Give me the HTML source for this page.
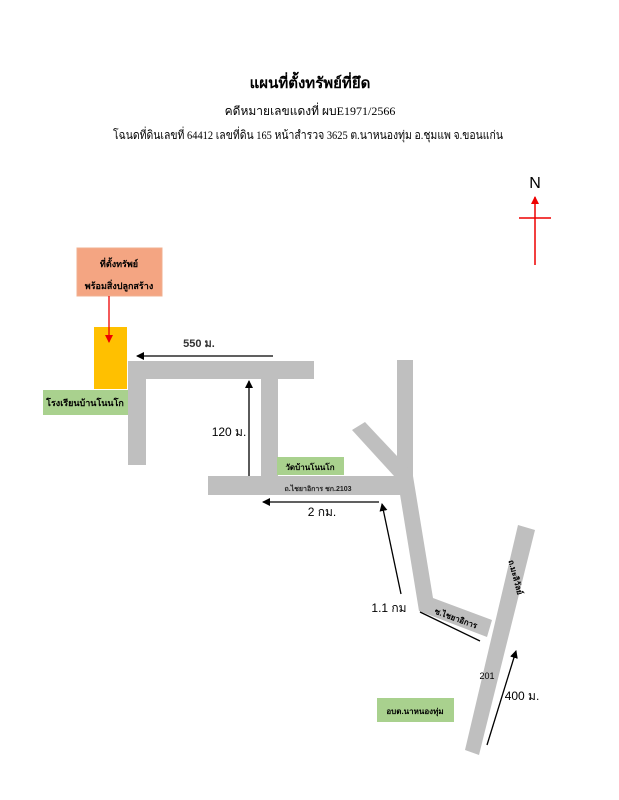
<!DOCTYPE html>
<html><head><meta charset="utf-8"><style>
body{margin:0;background:#fff;width:619px;height:800px;overflow:hidden}
svg{display:block}
text{font-family:"Liberation Sans","Noto Sans CJK SC",sans-serif}
.s{font-family:"Liberation Serif","Noto Serif CJK SC",serif}
</style></head><body>
<svg width="619" height="800" viewBox="0 0 619 800" xmlns="http://www.w3.org/2000/svg">
<defs>
<marker id="a" markerWidth="8" markerHeight="8" refX="7" refY="4" orient="auto" markerUnits="userSpaceOnUse"><path d="M0,0 L8,4 L0,8z" fill="#000"/></marker>
<marker id="r" markerWidth="8" markerHeight="8" refX="7" refY="4" orient="auto" markerUnits="userSpaceOnUse"><path d="M0,0 L8,4 L0,8z" fill="#e00"/></marker>
</defs>
<text class="s" x="310" y="88" font-size="15" font-weight="bold" text-anchor="middle">แผนที่ตั้งทรัพย์ที่ยึด</text>
<text class="s" x="310" y="115" font-size="12" text-anchor="middle">คดีหมายเลขแดงที่ ผบE1971/2566</text>
<text class="s" x="113" y="139" font-size="12" textLength="390" lengthAdjust="spacingAndGlyphs">โฉนดที่ดินเลขที่ 64412  เลขที่ดิน 165 หน้าสำรวจ 3625 ต.นาหนองทุ่ม อ.ชุมแพ จ.ขอนแก่น</text>
<text x="535" y="188" font-size="16" text-anchor="middle">N</text>
<line x1="535" y1="265" x2="535" y2="197" stroke="#e00" stroke-width="1.5" marker-end="url(#r)"/>
<line x1="519" y1="218" x2="551" y2="218" stroke="#e00" stroke-width="1.5"/>
<g fill="#bfbfbf">
<rect x="128" y="361" width="186" height="18"/>
<rect x="128" y="361" width="18" height="104"/>
<rect x="261" y="379" width="17" height="98"/>
<rect x="208" y="476" width="205" height="19"/>
<rect x="397" y="360" width="16" height="120"/>
<polygon points="352,430 365,422 412,472 405,488"/>
<polygon points="397,476 413,476 433,598 492,620 487,637 419,611"/>
<polygon points="518,525 535,530 479,755 465,750"/>
</g>
<rect x="77" y="248" width="85" height="48" fill="#f4a582" stroke="#f0b090"/>
<text x="119" y="267" font-size="9" font-weight="bold" text-anchor="middle">ที่ตั้งทรัพย์</text>
<text x="119" y="289" font-size="9" font-weight="bold" text-anchor="middle">พร้อมสิ่งปลูกสร้าง</text>
<rect x="94" y="327" width="33" height="62" fill="#ffc000"/>
<line x1="109" y1="296" x2="109" y2="342" stroke="#e00" stroke-width="1.3" marker-end="url(#r)"/>
<rect x="43" y="390" width="85" height="25" fill="#a9d18e"/>
<text x="85" y="406" font-size="9" font-weight="bold" text-anchor="middle">โรงเรียนบ้านโนนโก</text>
<rect x="277" y="457" width="67" height="18" fill="#a9d18e"/>
<text x="310" y="470" font-size="8" font-weight="bold" text-anchor="middle">วัดบ้านโนนโก</text>
<text x="318" y="491" font-size="7" font-weight="bold" text-anchor="middle" fill="#222">ถ.ไชยาอิการ ชก.2103</text>
<rect x="377" y="698" width="77" height="24" fill="#a9d18e"/>
<text x="415" y="714" font-size="8" font-weight="bold" text-anchor="middle">อบต.นาหนองทุ่ม</text>
<line x1="273" y1="356" x2="137" y2="356" stroke="#000" stroke-width="1.3" marker-end="url(#a)"/>
<text x="199" y="347" font-size="11" font-weight="bold" text-anchor="middle" fill="#333">550 ม.</text>
<line x1="249" y1="476" x2="249" y2="381" stroke="#000" stroke-width="1.3" marker-end="url(#a)"/>
<text x="229" y="436" font-size="12" text-anchor="middle">120 ม.</text>
<line x1="379" y1="502" x2="263" y2="502" stroke="#000" stroke-width="1.3" marker-end="url(#a)"/>
<text x="322" y="516" font-size="12" text-anchor="middle">2 กม.</text>
<line x1="401" y1="594" x2="382" y2="504" stroke="#000" stroke-width="1.3" marker-end="url(#a)"/>
<text x="389" y="612" font-size="12" text-anchor="middle">1.1 กม</text>
<line x1="420" y1="612" x2="480" y2="641" stroke="#000" stroke-width="1.3"/>
<text x="455" y="621" font-size="8" font-weight="bold" text-anchor="middle" transform="rotate(20 455 621)">ซ.ไชยาอิการ</text>
<text x="513" y="578" font-size="8" font-weight="bold" text-anchor="middle" transform="rotate(75 513 578)">ถ.มะลิวัลย์</text>
<text x="487" y="679" font-size="9" text-anchor="middle">201</text>
<line x1="487" y1="745" x2="516" y2="651" stroke="#000" stroke-width="1.3" marker-end="url(#a)"/>
<text x="522" y="700" font-size="12" text-anchor="middle">400 ม.</text>
</svg>
</body></html>
